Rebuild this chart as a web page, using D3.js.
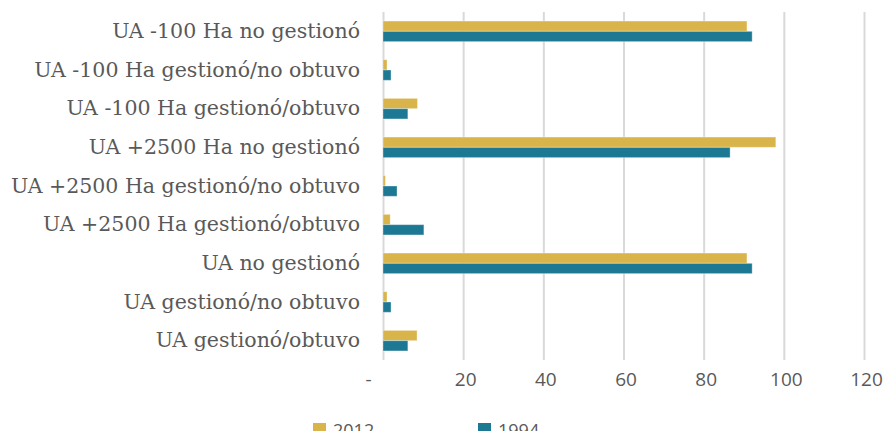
<!DOCTYPE html>
<html>
<head>
<meta charset="utf-8">
<script src="https://cdn.jsdelivr.net/npm/d3@7"></script>
<style>
  html, body { margin: 0; padding: 0; background: #fff; }
  svg { display: block; }
</style>
</head>
<body>
<div id="chart"></div>
<script>
const categories = [
  "UA -100 Ha no gestionó",
  "UA -100 Ha gestionó/no obtuvo",
  "UA -100 Ha gestionó/obtuvo",
  "UA +2500 Ha no gestionó",
  "UA +2500 Ha gestionó/no obtuvo",
  "UA +2500 Ha gestionó/obtuvo",
  "UA no gestionó",
  "UA gestionó/no obtuvo",
  "UA gestionó/obtuvo"
];
const seriesNames = ["2012", "1994"];
const values2012 = [90.8, 1.0, 8.6, 98.0, 0.6, 1.8, 90.8, 1.0, 8.5];
const values1994 = [92.1, 2.0, 6.2, 86.6, 3.5, 10.2, 92.1, 2.0, 6.2];
const tickValues = [0, 20, 40, 60, 80, 100, 120];
const colors = ["#D9B44A", "#1C7893"];

const W = 885, H = 431;
const margin = { left: 383, right: 21, top: 12, bottom: 71 };
const textColor = "#595959";

const svg = d3.select("#chart").append("svg")
  .attr("width", W).attr("height", H);

const x = d3.scaleLinear().domain([0, 120]).range([margin.left, W - margin.right]);
const y = d3.scaleBand().domain(categories).range([margin.top, H - margin.bottom]).padding(0);
const step = y.bandwidth();
const barH = 10.3;
const ySub = d3.scaleBand().domain(seriesNames)
  .range([step / 2 - barH, step / 2 + barH]).padding(0);

// gridlines
const grid = svg.append("g")
  .attr("transform", `translate(0,${H - margin.bottom})`)
  .call(d3.axisBottom(x).tickValues(tickValues)
    .tickSize(-(H - margin.bottom - margin.top)).tickFormat(""));
grid.select(".domain").remove();
grid.selectAll(".tick line").attr("stroke", "#d9d9d9").attr("stroke-width", 2);

// x-axis labels
const xAxis = svg.append("g")
  .attr("transform", `translate(0,${H - margin.bottom})`)
  .call(d3.axisBottom(x).tickValues(tickValues).tickSize(0)
    .tickPadding(13)
    .tickFormat(d => d === 0 ? "-" : d3.format("d")(d)));
xAxis.select(".domain").remove();
xAxis.selectAll(".tick text")
  .attr("fill", textColor)
  .style("font-family", "'Open Sans', 'Noto Sans', sans-serif")
  .style("font-size", "19px")
  .attr("dx", d => d === 0 ? -15 : 2);

// bars
const data = categories.map((c, i) => ({ cat: c, vals: [
  { s: "2012", v: values2012[i] },
  { s: "1994", v: values1994[i] }
]}));
const groups = svg.append("g").selectAll("g").data(data).join("g")
  .attr("transform", d => `translate(0,${y(d.cat)})`);
groups.selectAll("rect").data(d => d.vals).join("rect")
  .attr("x", x(0))
  .attr("y", d => ySub(d.s))
  .attr("width", d => x(d.v) - x(0))
  .attr("height", ySub.bandwidth())
  .attr("fill", (d, i) => colors[i])
  .attr("stroke", "rgba(255,255,255,0.35)")
  .attr("stroke-width", 1);

// category labels
const yAxis = svg.append("g")
  .attr("transform", `translate(${margin.left},0)`)
  .call(d3.axisLeft(y).tickSize(0).tickPadding(23));
yAxis.select(".domain").remove();
const labels = yAxis.selectAll(".tick text")
  .attr("fill", textColor)
  .style("font-family", "'DejaVu Serif', serif")
  .style("font-size", "18px");
// fit longest label width (~349px)
let maxW = 0;
labels.each(function() { maxW = Math.max(maxW, this.getComputedTextLength()); });
const fs = 18 * 349 / maxW;
labels.style("font-size", fs.toFixed(2) + "px");

// legend
const legend = svg.append("g");
const legendX = [313, 478];
seriesNames.forEach((s, i) => {
  const g = legend.append("g").attr("transform", `translate(${legendX[i]},423)`);
  g.append("rect").attr("width", 13).attr("height", 13).attr("fill", colors[i]);
  g.append("text").attr("x", 20).attr("y", 7.5).attr("dy", "0.35em")
    .attr("fill", textColor)
    .style("font-family", "'Open Sans', 'Noto Sans', sans-serif")
    .style("font-size", "18px")
    .text(s);
});
</script>
</body>
</html>
